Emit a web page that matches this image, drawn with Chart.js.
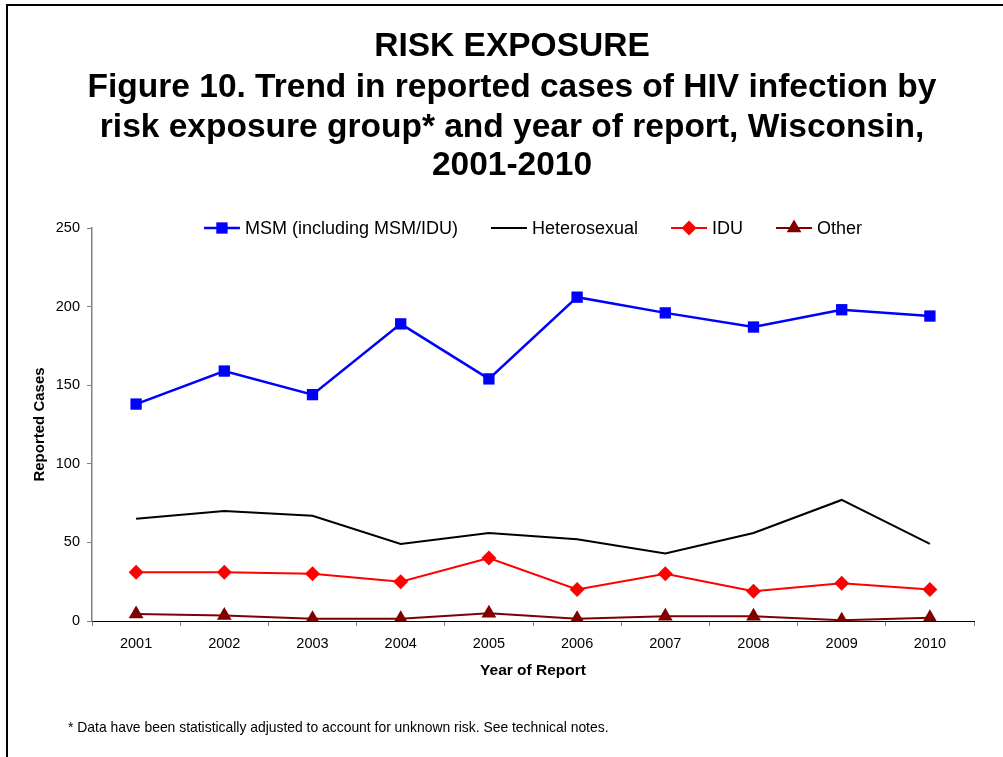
<!DOCTYPE html>
<html>
<head>
<meta charset="utf-8">
<script src="https://cdn.jsdelivr.net/npm/chart.js@4"></script>
<style>
  html, body { margin: 0; padding: 0; background: #fff; }
  #riskChart { display: block; }
</style>
</head>
<body>
<canvas id="riskChart" width="1003" height="757"></canvas>
<script>
const years = ["2001", "2002", "2003", "2004", "2005", "2006", "2007", "2008", "2009", "2010"];
const msmCases = [138, 159, 144, 189, 154, 206, 196, 187, 198, 194];
const heteroCases = [65, 70, 67, 49, 56, 52, 43, 56, 77, 49];
const iduCases = [31, 31, 30, 25, 40, 20, 30, 19, 24, 20];
const otherCases = [4.5, 3.5, 1.5, 1.5, 5, 1.5, 3, 3, 0.5, 2];
const yTicks = [0, 50, 100, 150, 200, 250];

const titleLines = [
  "RISK EXPOSURE",
  "Figure 10. Trend in reported cases of HIV infection by",
  "risk exposure group* and year of report, Wisconsin,",
  "2001-2010"
];
const footnote = "* Data have been statistically adjusted to account for unknown risk. See technical notes.";

const fontFamily = "'Liberation Sans', Arial, sans-serif";
Chart.defaults.font.family = fontFamily;
Chart.defaults.color = "#000";

// frame, title, legend and footnote drawn straight onto the canvas
const decorPlugin = {
  id: "decor",
  beforeDraw(chart) {
    const ctx = chart.ctx;
    ctx.save();
    ctx.fillStyle = "#fff";
    ctx.fillRect(0, 0, chart.width, chart.height);
    ctx.strokeStyle = "#000";
    ctx.lineWidth = 2;
    ctx.strokeRect(7, 5, chart.width + 20, chart.height + 20);
    ctx.restore();
  },
  afterDraw(chart) {
    const ctx = chart.ctx;
    const area = chart.chartArea;
    ctx.save();

    ctx.fillStyle = "#000";
    ctx.textAlign = "center";
    ctx.textBaseline = "middle";
    ctx.font = "bold 33.5px " + fontFamily;
    const lineY = [47, 88, 128, 166];
    titleLines.forEach((t, i) => ctx.fillText(t, 512, lineY[i]));

    // legend
    ctx.font = "18px " + fontFamily;
    const symW = 36, symGap = 5, itemGap = 33;
    const items = chart.data.datasets.map(ds => ({ ds, w: ctx.measureText(ds.label).width }));
    const total = items.reduce((s, it) => s + symW + symGap + it.w, 0) + itemGap * (items.length - 1);
    let x = (area.left + area.right) / 2 - total / 2;
    const ly = 228;
    ctx.textAlign = "left";
    items.forEach(it => {
      const ds = it.ds;
      ctx.strokeStyle = ds.borderColor;
      ctx.lineWidth = ds.borderWidth;
      ctx.beginPath();
      ctx.moveTo(x, ly);
      ctx.lineTo(x + symW, ly);
      ctx.stroke();
      if (ds.pointRadius > 0) {
        ctx.fillStyle = ds.backgroundColor;
        ctx.strokeStyle = ds.backgroundColor;
        Chart.helpers.drawPoint(ctx, { pointStyle: ds.pointStyle, radius: ds.pointRadius, rotation: 0, borderWidth: 0 }, x + symW / 2, ly);
      }
      ctx.fillStyle = "#000";
      ctx.fillText(ds.label, x + symW + symGap, ly + 1);
      x += symW + symGap + it.w + itemGap;
    });

    ctx.font = "13.9px " + fontFamily;
    ctx.fillText(footnote, 68, 728);
    ctx.restore();
  }
};

new Chart(document.getElementById("riskChart"), {
  type: "line",
  data: {
    labels: years,
    datasets: [
      {
        label: "MSM (including MSM/IDU)",
        data: msmCases,
        borderColor: "#0000FF",
        backgroundColor: "#0000FF",
        borderWidth: 2.5,
        pointStyle: "rect",
        pointRadius: 8,
        pointBorderWidth: 0
      },
      {
        label: "Heterosexual",
        data: heteroCases,
        borderColor: "#000000",
        backgroundColor: "#000000",
        borderWidth: 2,
        pointRadius: 0
      },
      {
        label: "IDU",
        data: iduCases,
        borderColor: "#FF0000",
        backgroundColor: "#FF0000",
        borderWidth: 2,
        pointStyle: "rectRot",
        pointRadius: 7.5,
        pointBorderWidth: 0
      },
      {
        label: "Other",
        data: otherCases,
        borderColor: "#800000",
        backgroundColor: "#800000",
        borderWidth: 2,
        pointStyle: "triangle",
        pointRadius: 8.5,
        pointBorderWidth: 0
      }
    ]
  },
  options: {
    responsive: false,
    animation: false,
    layout: { padding: { top: 228, left: 0, right: 29, bottom: 74 } },
    plugins: {
      legend: { display: false },
      title: { display: false },
      tooltip: { enabled: false }
    },
    scales: {
      x: {
        offset: true,
        grid: { offset: true, drawOnChartArea: false, tickLength: 5, color: "#808080" },
        border: { color: "#000", width: 1 },
        ticks: { font: { size: 14.5 }, padding: 9, maxRotation: 0 },
        title: { display: true, text: "Year of Report", font: { size: 15.5, weight: "bold" }, padding: { top: 0, bottom: 3 } },
        afterFit: scale => { scale.height = 62; }
      },
      y: {
        min: 0,
        max: 250,
        afterBuildTicks: scale => { scale.ticks = yTicks.map(v => ({ value: v })); },
        grid: { drawOnChartArea: false, tickLength: 5, color: "#808080" },
        border: { color: "#808080", width: 1.5 },
        ticks: { font: { size: 14.5 }, padding: 7 },
        title: { display: true, text: "Reported Cases", font: { size: 15, weight: "bold" }, padding: { top: 31, bottom: 0 } },
        afterFit: scale => { scale.width = 92; }
      }
    }
  },
  plugins: [decorPlugin]
});
</script>
</body>
</html>
